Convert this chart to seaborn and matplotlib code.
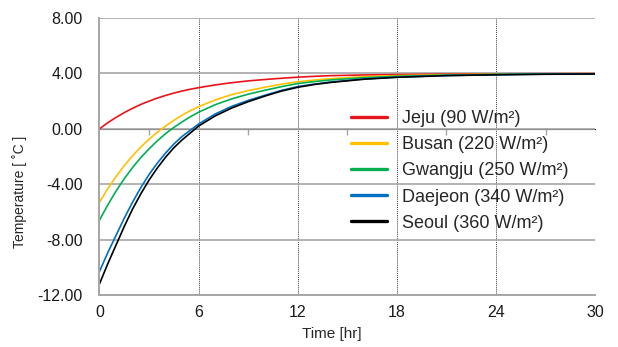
import numpy as np
import pandas as pd
import matplotlib
matplotlib.use("Agg")
import matplotlib.pyplot as plt
import seaborn as sns

sns.set_style("white")
plt.rcParams['font.family'] = ['Liberation Sans', 'DejaVu Sans']
plt.rcParams['axes.unicode_minus'] = False

# time [hr]
hours = [0, 0.5, 1, 1.5, 2, 2.5, 3, 3.5, 4, 4.5, 5, 5.5, 6,
         7, 8, 9, 10, 11, 12, 13, 14, 16, 18, 21, 24, 27, 30]

# temperature [C]
jeju = [0.0, 0.44, 0.82, 1.17, 1.48, 1.76, 2.0, 2.22, 2.41, 2.58, 2.73, 2.86, 2.97,
        3.17, 3.33, 3.46, 3.56, 3.65, 3.73, 3.79, 3.84, 3.89, 3.92, 3.95, 3.97, 3.98, 3.99]
busan = [-5.3, -4.33, -3.45, -2.66, -1.95, -1.32, -0.75, -0.25, 0.2, 0.61, 0.98, 1.31, 1.6,
         2.08, 2.47, 2.76, 3.0, 3.22, 3.4, 3.52, 3.62, 3.76, 3.84, 3.91, 3.95, 3.97, 3.98]
gwangju = [-6.6, -5.5, -4.5, -3.6, -2.8, -2.08, -1.45, -0.87, -0.35, 0.1, 0.5, 0.87, 1.2,
           1.74, 2.16, 2.5, 2.78, 3.04, 3.27, 3.41, 3.53, 3.69, 3.79, 3.88, 3.93, 3.96, 3.97]
daejeon = [-10.3, -8.95, -7.7, -6.45, -5.3, -4.25, -3.3, -2.48, -1.75, -1.1, -0.55, -0.1, 0.35,
           1.07, 1.62, 2.05, 2.42, 2.77, 3.05, 3.23, 3.38, 3.6, 3.73, 3.85, 3.91, 3.95, 3.96]
seoul = [-11.2, -9.75, -8.4, -7.05, -5.8, -4.7, -3.7, -2.83, -2.05, -1.37, -0.8, -0.3, 0.2,
         0.93, 1.5, 1.96, 2.36, 2.72, 3.0, 3.2, 3.35, 3.58, 3.72, 3.84, 3.9, 3.94, 3.96]

cities = ["Jeju (90 W/m²)", "Busan (220 W/m²)", "Gwangju (250 W/m²)",
          "Daejeon (340 W/m²)", "Seoul (360 W/m²)"]
colors = ["#E8141C", "#FFC000", "#00B050", "#0070C0", "#000000"]

df = pd.concat([
    pd.DataFrame({"time": hours, "temp": v, "city": c})
    for c, v in zip(cities, [jeju, busan, gwangju, daejeon, seoul])
])

fig, ax = plt.subplots(figsize=(6.18, 3.47), dpi=100)
fig.subplots_adjust(left=0.161, right=0.963, top=0.948, bottom=0.150)

sns.lineplot(data=df, x="time", y="temp", hue="city", hue_order=cities,
             palette=dict(zip(cities, colors)), linewidth=1.2, ax=ax)

ax.set_xlim(0, 30)
ax.set_ylim(-12, 8)
ax.set_xticks(np.arange(0, 31, 6))
ax.set_yticks(np.arange(-12, 9, 4))
ax.set_yticklabels(["%.2f" % v for v in np.arange(-12, 9, 4)])

# grid: solid horizontal, dotted vertical
ax.grid(axis='y', color='#A6A6A6', linestyle='-', linewidth=1.2)
ax.grid(axis='x', color='#404040', linestyle=(0, (1, 1)), linewidth=0.7)
ax.set_axisbelow(True)

for s in ['top', 'right']:
    ax.spines[s].set_visible(False)
for s in ['left', 'bottom']:
    ax.spines[s].set_color('#A6A6A6')
    ax.spines[s].set_linewidth(1.4)

ax.tick_params(axis='both', length=0, labelsize=11.5, colors='#1a1a1a')
ax.tick_params(axis='y', pad=12)
ax.tick_params(axis='x', pad=7)

# x axis crossing at zero with minor tick marks
sec = ax.secondary_xaxis(0.6)
sec.set_xticks([])
sec.set_xticks(np.arange(3, 30, 6), minor=True)
sec.tick_params(which='minor', direction='in', length=4, color='#A6A6A6', width=1)
sec.spines['bottom'].set_visible(False)
sec.set_xticklabels([])

ax.set_xlabel("Time [hr]", fontsize=11)
ax.set_ylabel("Temperature [ ˚C ]", fontsize=10)
ax.xaxis.set_label_coords(0.469, -0.115)
ax.yaxis.set_label_coords(-0.146, 0.372)

handles, labels = ax.get_legend_handles_labels()
leg = ax.legend(handles, labels, loc='upper left', bbox_to_anchor=(0.475, 0.725),
                frameon=False, fontsize=13, handlelength=2.0, handletextpad=0.8,
                labelspacing=0.5)
for h in leg.get_lines():
    h.set_linewidth(2.4)

fig.savefig("out.png", dpi=100)
